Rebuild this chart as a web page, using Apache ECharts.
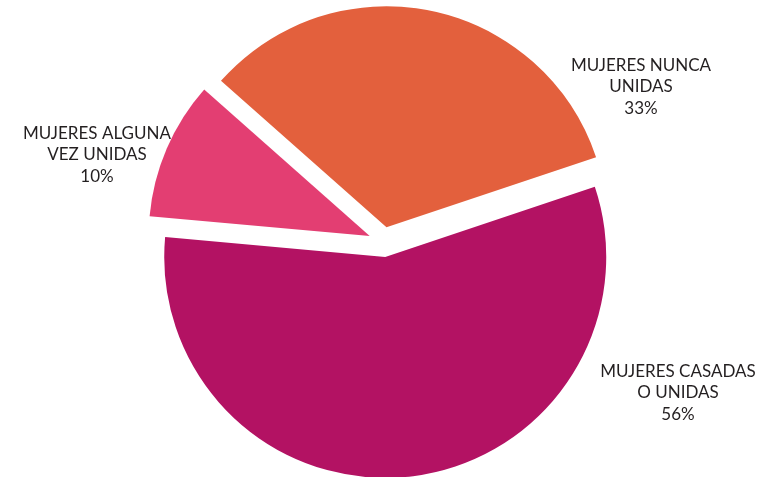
<!DOCTYPE html>
<html>
<head>
<meta charset="utf-8">
<style>
  html, body { margin: 0; padding: 0; background: #ffffff; }
  #chart { width: 767px; height: 477px; }
</style>
<script src="https://cdn.jsdelivr.net/npm/echarts@6/dist/echarts.min.js"></script>
</head>
<body>
<div id="chart"></div>
<script>
const categories = ['MUJERES NUNCA\nUNIDAS', 'MUJERES CASADAS\nO UNIDAS', 'MUJERES ALGUNA\nVEZ UNIDAS'];
const values = [33, 56, 10];
const colors = ['#E3603D', '#B31263', '#E33E72'];
const labelAnchors = [[641, 87], [678, 393], [97, 155]];

const chart = echarts.init(document.getElementById('chart'), null, { renderer: 'canvas' });

chart.setOption({
  animation: false,
  backgroundColor: '#ffffff',
  graphic: categories.map((c, i) => ({
    type: 'text',
    x: labelAnchors[i][0],
    y: labelAnchors[i][1],
    z: 10,
    style: {
      text: c + '\n' + values[i] + '%',
      align: 'center',
      verticalAlign: 'middle',
      fontFamily: 'Lato, "Open Sans", sans-serif',
      fontSize: 17,
      lineHeight: 21.5,
      fill: '#231F20'
    }
  })),
  series: [{
    type: 'pie',
    center: ['50%', 242],
    radius: 221,
    startAngle: 138.5,
    clockwise: true,
    avoidLabelOverlap: false,
    selectedMode: 'multiple',
    selectedOffset: 15,
    emphasis: { disabled: true },
    labelLine: { show: false },
    label: { show: false },
    data: categories.map((c, i) => ({
      name: c,
      value: values[i],
      selected: true,
      itemStyle: { color: colors[i] }
    }))
  }]
});
</script>
</body>
</html>
